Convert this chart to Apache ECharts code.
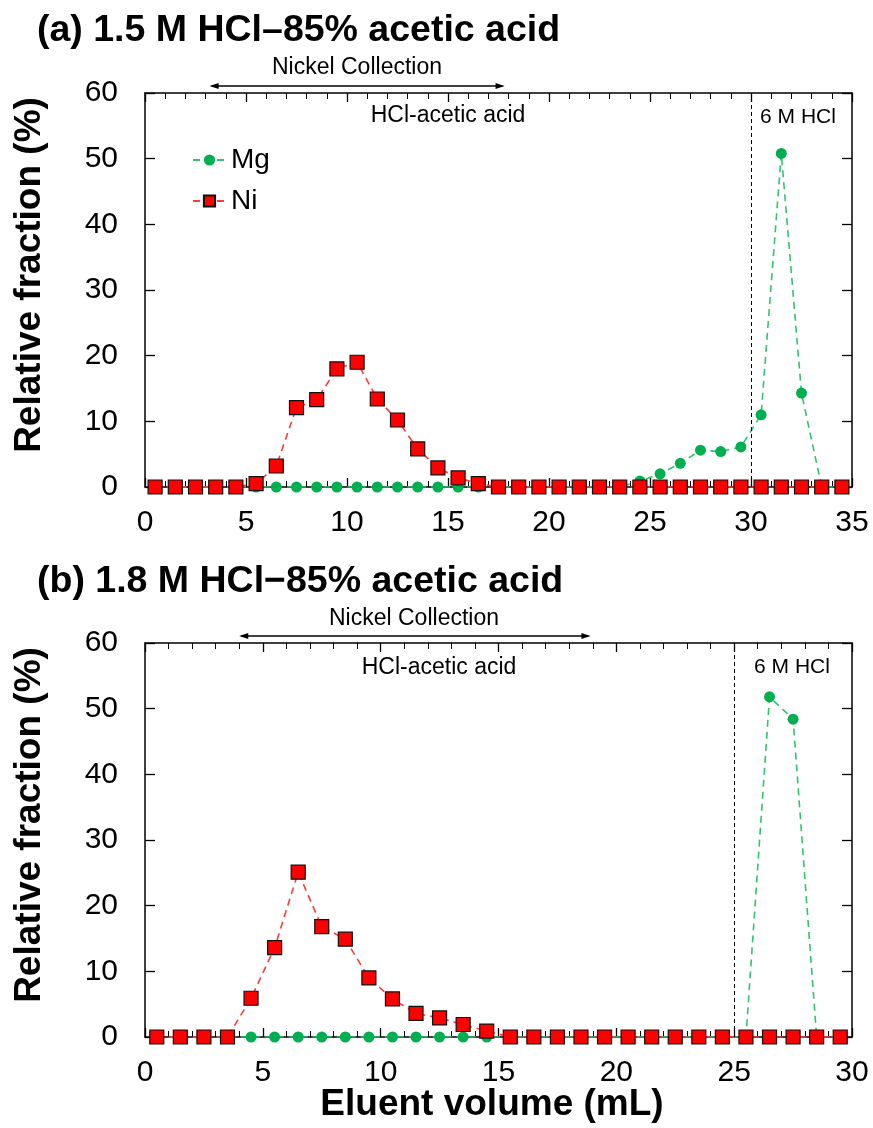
<!DOCTYPE html>
<html>
<head>
<meta charset="utf-8">
<script src="https://cdn.jsdelivr.net/npm/echarts@6/dist/echarts.min.js"></script>
<style>
  html, body { margin: 0; padding: 0; background: #fff; }
  #main { width: 873px; height: 1128px; }
</style>
</head>
<body>
<div id="main"></div>
<script>
// Eluent fraction centres (mL) and relative fractions (%) for the two eluent conditions
const volumeA = [0.5, 1.5, 2.5, 3.5, 4.5, 5.5, 6.5, 7.5, 8.5, 9.5, 10.5, 11.5, 12.5, 13.5, 14.5, 15.5, 16.5, 17.5,
                 18.5, 19.5, 20.5, 21.5, 22.5, 23.5, 24.5, 25.5, 26.5, 27.5, 28.5, 29.5, 30.5, 31.5, 32.5, 33.5, 34.5];
const mgA = [0, 0, 0, 0, 0, 0, 0, 0, 0, 0, 0, 0, 0, 0, 0, 0, 0, 0,
             0, 0, 0, 0, 0, 0, 0.9, 2.0, 3.6, 5.6, 5.4, 6.1, 11.0, 50.8, 14.3, 0, 0];
const niA = [0, 0, 0, 0, 0, 0.5, 3.2, 12.1, 13.3, 18.0, 19.0, 13.4, 10.2, 5.8, 2.9, 1.4, 0.5, 0,
             0, 0, 0, 0, 0, 0, 0, 0, 0, 0, 0, 0, 0, 0, 0, 0, 0];

const volumeB = [0.5, 1.5, 2.5, 3.5, 4.5, 5.5, 6.5, 7.5, 8.5, 9.5, 10.5, 11.5, 12.5, 13.5, 14.5,
                 15.5, 16.5, 17.5, 18.5, 19.5, 20.5, 21.5, 22.5, 23.5, 24.5, 25.5, 26.5, 27.5, 28.5, 29.5];
const mgB = [0, 0, 0, 0, 0, 0, 0, 0, 0, 0, 0, 0, 0, 0, 0,
             0, 0, 0, 0, 0, 0, 0, 0, 0, 0, 0, 51.8, 48.4, 0, 0];
const niB = [0, 0, 0, 0, 5.9, 13.6, 25.1, 16.8, 14.9, 9.0, 5.8, 3.6, 2.9, 1.9, 0.9,
             0, 0, 0, 0, 0, 0, 0, 0, 0, 0, 0, 0, 0, 0, 0];

// Acid switch point (mL) and the nickel collection window for each run
const switchA = 30, switchB = 25;
const collectA = [3.2, 17.8], collectB = [4.0, 18.9];

const titles = ['(a) 1.5 M HCl\u201385% acetic acid', '(b) 1.8 M HCl\u221285% acetic acid'];

const FONT = "'Liberation Sans', Arial, Helvetica, sans-serif";
const MG_COLOR = '#00b050', MG_LINE = '#35c26f';
const NI_COLOR = '#ff0000', NI_LINE = '#ff3b3b';

const pairs = (xs, ys) => xs.map((x, i) => [x, ys[i]]);

const grids = [
  { left: 145, top: 93, width: 707, height: 394 },
  { left: 145, top: 643, width: 707, height: 394 }
];

function xAxes(gi, max, labels) {
  const base = {
    gridIndex: gi, type: 'value', min: 0, max: max, interval: 5,
    axisLine: { show: true, onZero: false, lineStyle: { color: '#000', width: 1.5 } },
    axisTick: { show: true, inside: true, length: 9, lineStyle: { color: '#000', width: 1.3 } },
    minorTick: { show: true, splitNumber: 5, length: 6, lineStyle: { color: '#000', width: 1 } },
    splitLine: { show: false }
  };
  return [
    Object.assign({}, base, {
      position: 'bottom',
      axisLabel: { show: labels, color: '#000', fontFamily: FONT, fontSize: 30, margin: 21 }
    }),
    Object.assign({}, base, { position: 'top', axisLabel: { show: false } })
  ];
}

function yAxes(gi) {
  const base = {
    gridIndex: gi, type: 'value', min: 0, max: 60, interval: 10,
    axisLine: { show: true, onZero: false, lineStyle: { color: '#000', width: 1.5 } },
    axisTick: { show: true, inside: true, length: 10, lineStyle: { color: '#000', width: 1.3 } },
    splitLine: { show: false }
  };
  return [
    Object.assign({}, base, {
      position: 'left',
      axisLabel: { color: '#000', fontFamily: FONT, fontSize: 30, margin: 27 }
    }),
    Object.assign({}, base, { position: 'right', axisLabel: { show: false } })
  ];
}

function mgSeries(gi, xs, ys, sw) {
  return {
    name: 'Mg', type: 'line', xAxisIndex: gi * 2, yAxisIndex: gi * 2,
    data: pairs(xs, ys), symbol: 'circle', symbolSize: 11, z: 2,
    itemStyle: { color: MG_COLOR },
    lineStyle: { color: MG_LINE, width: 1.6, type: [7, 5] },
    markLine: {
      silent: true, symbol: ['none', 'none'], label: { show: false },
      lineStyle: { color: '#000', width: 1, type: [4, 3] },
      data: [{ xAxis: sw }]
    },
    animation: false
  };
}

function niSeries(gi, xs, ys) {
  return {
    name: 'Ni', type: 'line', xAxisIndex: gi * 2, yAxisIndex: gi * 2,
    data: pairs(xs, ys), symbol: 'rect', symbolSize: 14, z: 3,
    itemStyle: { color: NI_COLOR, borderColor: '#111', borderWidth: 1.2 },
    lineStyle: { color: NI_LINE, width: 1.6, type: [7, 5] },
    animation: false
  };
}

const chart = echarts.init(document.getElementById('main'), null, { renderer: 'canvas' });

chart.setOption({
  animation: false,
  textStyle: { fontFamily: FONT },
  grid: grids,
  xAxis: [].concat(xAxes(0, 35, true), xAxes(1, 30, true)),
  yAxis: [].concat(yAxes(0), yAxes(1)),
  legend: {
    data: ['Mg', 'Ni'], orient: 'vertical', left: 187, top: 141,
    itemWidth: 33, itemHeight: 14, itemGap: 13,
    textStyle: { fontFamily: FONT, fontSize: 28, color: '#000', lineHeight: 28 }
  },
  series: [
    mgSeries(0, volumeA, mgA, switchA),
    niSeries(0, volumeA, niA),
    mgSeries(1, volumeB, mgB, switchB),
    niSeries(1, volumeB, niB)
  ]
});

// Annotations placed from axis coordinates
function arrow(gi, x0, x1, yPix) {
  const a = chart.convertToPixel({ gridIndex: gi }, [x0, 0])[0];
  const b = chart.convertToPixel({ gridIndex: gi }, [x1, 0])[0];
  const style = { fill: '#000' };
  return [
    { type: 'line', shape: { x1: a + 2, y1: yPix, x2: b - 2, y2: yPix }, style: { stroke: '#000', lineWidth: 1.5 } },
    { type: 'polygon', shape: { points: [[a, yPix], [a + 9, yPix - 3], [a + 9, yPix + 3]] }, style: style },
    { type: 'polygon', shape: { points: [[b, yPix], [b - 9, yPix - 3], [b - 9, yPix + 3]] }, style: style }
  ];
}

function text(str, x, y, size, opts) {
  return Object.assign({
    type: 'text', x: x, y: y,
    style: Object.assign({
      text: str, fill: '#000', font: size + 'px ' + FONT,
      textAlign: 'center', textVerticalAlign: 'middle'
    }, (opts && opts.style) || {})
  }, (opts && opts.el) || {});
}

const boldFont = (s) => 'bold ' + s + 'px ' + FONT;

const graphics = [].concat(
  // panel titles
  text(titles[0], 37, 31, 37.5, { style: { textAlign: 'left', font: boldFont(37.5) } }),
  text(titles[1], 37, 582, 37.5, { style: { textAlign: 'left', font: boldFont(37.5) } }),
  // y-axis titles
  text('Relative fraction (%)', 30, 275, 37, { style: { font: boldFont(37) }, el: { rotation: Math.PI / 2 } }),
  text('Relative fraction (%)', 30, 825, 37, { style: { font: boldFont(37) }, el: { rotation: Math.PI / 2 } }),
  // x-axis title
  text('Eluent volume (mL)', 492, 1105, 37, { style: { font: boldFont(37) } }),
  // panel (a) annotations
  text('Nickel Collection', 357, 68, 23),
  arrow(0, collectA[0], collectA[1], 86),
  text('HCl-acetic acid', 448, 116, 23),
  text('6 M HCl', 798, 117, 21),
  // panel (b) annotations
  text('Nickel Collection', 414, 619, 23),
  arrow(1, collectB[0], collectB[1], 636),
  text('HCl-acetic acid', 439, 668, 23),
  text('6 M HCl', 792, 667, 21)
);

chart.setOption({ graphic: graphics });
</script>
</body>
</html>
